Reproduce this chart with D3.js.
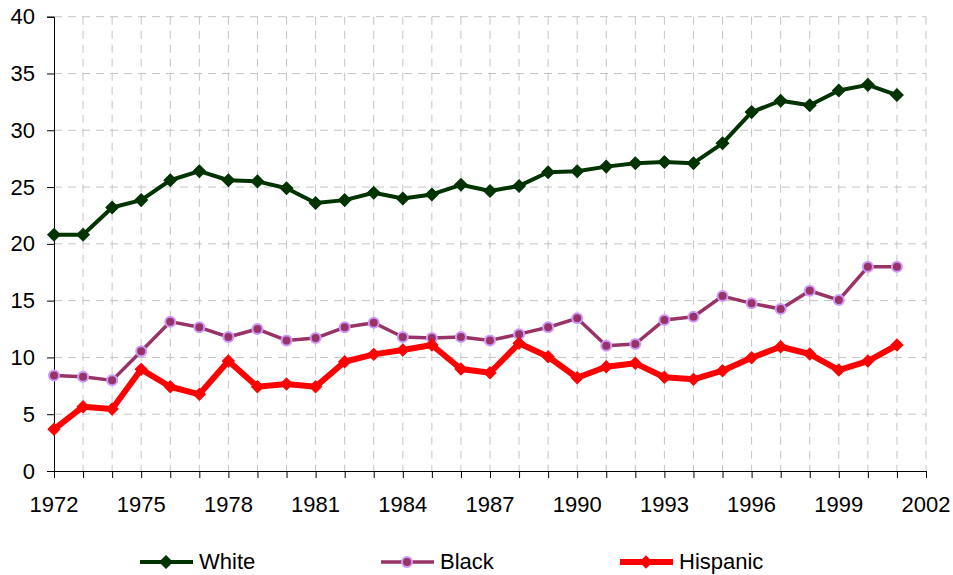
<!DOCTYPE html>
<html>
<head>
<meta charset="utf-8">
<script src="https://cdn.jsdelivr.net/npm/d3@7"></script>
<style>
  body { margin: 0; background: #fff; }
  text { font-family: "Liberation Sans", Arial, sans-serif; fill: #000; }
</style>
</head>
<body>
<div id="chart"></div>
<script>
// data
const years = d3.range(1972, 2002);
const white = [20.8, 20.8, 23.2, 23.85, 25.6, 26.4, 25.6, 25.5, 24.9, 23.6,
    23.85, 24.5, 24.0, 24.35, 25.2, 24.65, 25.1, 26.3, 26.4, 26.8,
    27.1, 27.2, 27.1, 28.85, 31.6, 32.6, 32.2, 33.5, 34.0, 33.1];
const black = [8.4, 8.3, 7.98, 10.55, 13.15, 12.65, 11.8, 12.5, 11.5, 11.7,
    12.65, 13.05, 11.8, 11.7, 11.8, 11.5, 12.05, 12.65, 13.45, 11.03,
    11.18, 13.3, 13.58, 15.4, 14.76, 14.26, 15.87, 15.05, 17.98, 17.98];
const hispanic = [3.67, 5.66, 5.46, 8.95, 7.42, 6.75, 9.68, 7.42, 7.66, 7.42,
    9.62, 10.27, 10.65, 11.09, 8.98, 8.65, 11.24, 10.06, 8.21, 9.18,
    9.48, 8.25, 8.07, 8.83, 9.97, 10.94, 10.3, 8.89, 9.68, 11.09];
const xTicks = d3.range(1972, 2003);
const xLabels = d3.range(1972, 2003, 3);
const yTicks = [0, 5, 10, 15, 20, 25, 30, 35, 40];
const seriesNames = ['White', 'Black', 'Hispanic'];

const width = 953, height = 575;

const svg = d3.select('#chart')
    .append('svg')
    .attr('width', width)
    .attr('height', height);

const xScale = d3.scaleLinear().domain([1972, 2002]).range([54, 926]);
const yScale = d3.scaleLinear().domain([0, 40]).range([471, 16.7]);

// grid
svg.append('g').selectAll('line')
    .data(yTicks.slice(1))
    .enter().append('line')
    .attr('x1', xScale(1972)).attr('x2', xScale(2002))
    .attr('y1', d => yScale(d)).attr('y2', d => yScale(d))
    .attr('stroke', '#c4c4c4').attr('stroke-width', 1)
    .attr('stroke-dasharray', '8,6');

svg.append('g').selectAll('line')
    .data(xTicks.slice(1))
    .enter().append('line')
    .attr('x1', d => xScale(d)).attr('x2', d => xScale(d))
    .attr('y1', yScale(40)).attr('y2', yScale(0))
    .attr('stroke', '#c4c4c4').attr('stroke-width', 1)
    .attr('stroke-dasharray', '8,6');

// axes
const yAxis = d3.axisLeft(yScale).tickValues(yTicks).tickSize(7).tickPadding(12);
const xAxis = d3.axisBottom(xScale).tickValues(xTicks).tickSize(7).tickFormat('');

const gy = svg.append('g')
    .attr('transform', `translate(${xScale(1972)},0)`)
    .call(yAxis);
gy.selectAll('text').style('font-size', '22px').attr('dy', '0.32em');

const gx = svg.append('g')
    .attr('transform', `translate(0,${yScale(0)})`)
    .call(xAxis);

svg.append('g').selectAll('text')
    .data(xLabels)
    .enter().append('text')
    .attr('x', d => xScale(d))
    .attr('y', 512)
    .attr('text-anchor', 'middle')
    .style('font-size', '22px')
    .text(d => d);

[gx, gy].forEach(g => {
    g.select('.domain').attr('stroke', '#000');
    g.selectAll('.tick line').attr('stroke', '#000');
});

// series
const series = [
    { name: 'White', values: white, color: '#003300', width: 4, marker: 'diamond', size: 80 },
    { name: 'Black', values: black, color: '#993366', width: 3.5, marker: 'circle', size: 5 },
    { name: 'Hispanic', values: hispanic, color: '#ff0000', width: 6, marker: 'diamond', size: 72 }
];

const line = d3.line()
    .x((d, i) => xScale(years[i]))
    .y(d => yScale(d));

function drawMarker(g, s, x, y) {
    if (s.marker === 'diamond') {
        g.append('path')
            .attr('d', d3.symbol().type(d3.symbolSquare).size(s.size)())
            .attr('transform', `translate(${x},${y}) rotate(45)`)
            .attr('fill', s.color)
            .attr('stroke', s.color)
            .attr('stroke-width', 1);
    } else {
        g.append('circle')
            .attr('cx', x).attr('cy', y).attr('r', s.size)
            .attr('fill', s.color)
            .attr('stroke', '#cc99ff')
            .attr('stroke-width', 2);
    }
}

series.forEach(s => {
    const g = svg.append('g');
    g.append('path')
        .datum(s.values)
        .attr('d', line)
        .attr('fill', 'none')
        .attr('stroke', s.color)
        .attr('stroke-width', s.width)
        .attr('stroke-linejoin', 'round');
    s.values.forEach((v, i) => drawMarker(g, s, xScale(years[i]), yScale(v)));
});

// legend
const legendX = [140, 381, 620];
const legendY = 562;
series.forEach((s, i) => {
    const g = svg.append('g');
    g.append('line')
        .attr('x1', legendX[i]).attr('x2', legendX[i] + 53)
        .attr('y1', legendY).attr('y2', legendY)
        .attr('stroke', s.color)
        .attr('stroke-width', s.width);
    drawMarker(g, s, legendX[i] + 26, legendY);
    g.append('text')
        .attr('x', legendX[i] + 59)
        .attr('y', legendY + 7)
        .style('font-size', '22px')
        .text(seriesNames[i]);
});
</script>
</body>
</html>
